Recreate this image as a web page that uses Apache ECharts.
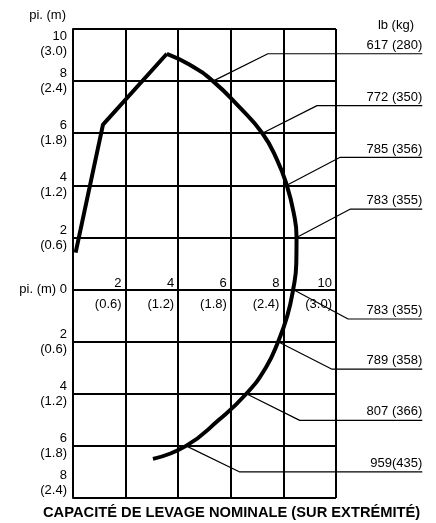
<!DOCTYPE html>
<html>
<head>
<meta charset="utf-8">
<script src="https://cdn.jsdelivr.net/npm/echarts@6/dist/echarts.min.js"></script>
<style>
  html, body { margin: 0; padding: 0; background: #fff; }
  #chart { width: 436px; height: 523px; }
</style>
</head>
<body>
<div id="chart"></div>
<script>
// tick labels: feet and the metre value shown under it
const tickFt = [2, 4, 6, 8, 10];
const tickM = ['0.6', '1.2', '1.8', '2.4', '3.0'];

// boom: straight part up to the top pivot
const boomX = [0.1, 1.14, 3.57];
const boomY = [1.42, 6.33, 9.05];

// reach envelope (curved part)
const arcX = [3.57, 4.44, 5.32, 6.33, 7.2, 7.75, 8.13, 8.38, 8.5, 8.49, 8.37, 8.15, 7.8, 7.33, 6.59, 5.55, 4.3, 3.04];
const arcY = [9.05, 8.63, 8.0, 7.0, 6.0, 5.0, 4.0, 3.0, 2.0, 1.0, 0, -1, -2, -3, -4, -5, -6, -6.5];

// rated capacity callouts
const capLabels = ['617 (280)', '772 (350)', '785 (356)', '783 (355)', '783 (355)', '789 (358)', '807 (366)', '959(435)'];
const capCurveX = [5.32, 7.2, 8.13, 8.5, 8.37, 7.8, 6.59, 4.3];
const capCurveY = [8, 6, 4, 2, 0, -2, -4, -6];
const capElbowX = [7.41, 9.28, 10.14, 10.55, 10.46, 9.83, 8.62, 6.34];
const capElbowY = [9.05, 7.06, 5.07, 3.09, -1.13, -3.05, -5.02, -7.0];
const capEndX = 13.28;

const FONT = '"Liberation Sans", Arial, Helvetica, sans-serif';
const INK = '#000';

const CHART_W = 436, CHART_H = 523;
const GRID_LEFT = 73, GRID_RIGHT = 100, GRID_TOP = 29, GRID_BOTTOM = 25;
// x axis sits on the y = 0 line: shift it up from the grid bottom
const zeroShift = (CHART_H - GRID_TOP - GRID_BOTTOM) * 8 / 18;
// wider hidden grid with the same scale, for the callouts outside the frame
const wideMax = 10 * (CHART_W - GRID_LEFT) / (CHART_W - GRID_LEFT - GRID_RIGHT);

function metres(v) {
  const i = tickFt.indexOf(Math.abs(v));
  return i >= 0 ? tickM[i] : '';
}

const chart = echarts.init(document.getElementById('chart'));

let series = [
  {
    type: 'line',
    data: boomX.map((x, i) => [x, boomY[i]]),
    symbol: 'none',
    lineStyle: { color: '#000', width: 4 },
    z: 5
  },
  {
    type: 'line',
    data: arcX.map((x, i) => [x, arcY[i]]),
    symbol: 'none',
    smooth: 0.5,
    lineStyle: { color: '#000', width: 4 },
    z: 5
  }
];

capLabels.forEach((t, i) => {
  series.push({
    type: 'line',
    xAxisIndex: 1,
    yAxisIndex: 1,
    symbol: 'none',
    data: [[capCurveX[i], capCurveY[i]], [capElbowX[i], capElbowY[i]], [capEndX, capElbowY[i]]],
    lineStyle: { color: '#000', width: 1.2 },
    z: 4
  });
});

series.push({
  type: 'scatter',
  xAxisIndex: 1,
  yAxisIndex: 1,
  symbolSize: 0,
  itemStyle: { opacity: 1 },
  data: capElbowY.map(y => [capEndX, y]),
  label: {
    show: true,
    position: 'top',
    align: 'right',
    distance: 2,
    fontFamily: FONT,
    fontSize: 13,
    color: INK,
    formatter: p => capLabels[p.dataIndex]
  }
});

let option = {
  animation: false,
  backgroundColor: '#fff',
  title: [
    {
      text: 'lb (kg)',
      right: 22,
      top: 19,
      padding: 0,
      textStyle: { fontFamily: FONT, fontSize: 13, fontWeight: 'normal', color: INK }
    },
    {
      text: 'CAPACITÉ DE LEVAGE NOMINALE (SUR EXTRÉMITÉ)',
      left: 43,
      top: 505,
      padding: 0,
      textStyle: { fontFamily: FONT, fontSize: 14.7, fontWeight: 'bold', color: INK }
    }
  ],
  grid: [
    { left: GRID_LEFT, right: GRID_RIGHT, top: GRID_TOP, bottom: GRID_BOTTOM },
    { left: GRID_LEFT, right: 0, top: GRID_TOP, bottom: GRID_BOTTOM }
  ],
  xAxis: [
    {
      type: 'value',
      min: 0,
      max: 10,
      interval: 2,
      position: 'bottom',
      offset: -zeroShift,
      axisLine: { show: true, onZero: false, lineStyle: { color: INK, width: 2 } },
      axisTick: { show: false },
      splitLine: { show: true, lineStyle: { color: INK, width: 2 } },
      axisLabel: {
        margin: 4,
        align: 'right',
        verticalAlign: 'middle',
        lineHeight: 21,
        padding: [0, 4, 0, 0],
        fontFamily: FONT,
        fontSize: 13,
        color: INK,
        formatter: v => v === 0 ? '' : v + '\n(' + metres(v) + ')'
      }
    },
    { type: 'value', gridIndex: 1, min: 0, max: wideMax, show: false }
  ],
  yAxis: [
    {
      type: 'value',
      min: -8,
      max: 10,
      interval: 2,
      name: 'pi. (m)',
      nameLocation: 'end',
      nameGap: 14,
      nameTextStyle: { fontFamily: FONT, fontSize: 13, color: INK, align: 'right', verticalAlign: 'middle', padding: [0, 7, 0, 0] },
      axisLine: { show: true, lineStyle: { color: INK, width: 2 } },
      axisTick: { show: false },
      splitLine: { show: true, lineStyle: { color: INK, width: 2 } },
      axisLabel: {
        margin: 6,
        lineHeight: 15,
        fontFamily: FONT,
        fontSize: 13,
        color: INK,
        verticalAlignMaxLabel: 'top',
        verticalAlignMinLabel: 'bottom',
        formatter: v => v === 0 ? 'pi. (m) 0' : Math.abs(v) + '\n(' + metres(v) + ')'
      }
    },
    { type: 'value', gridIndex: 1, min: -8, max: 10, show: false }
  ],
  series: series
};

chart.setOption(option);
</script>
</body>
</html>
